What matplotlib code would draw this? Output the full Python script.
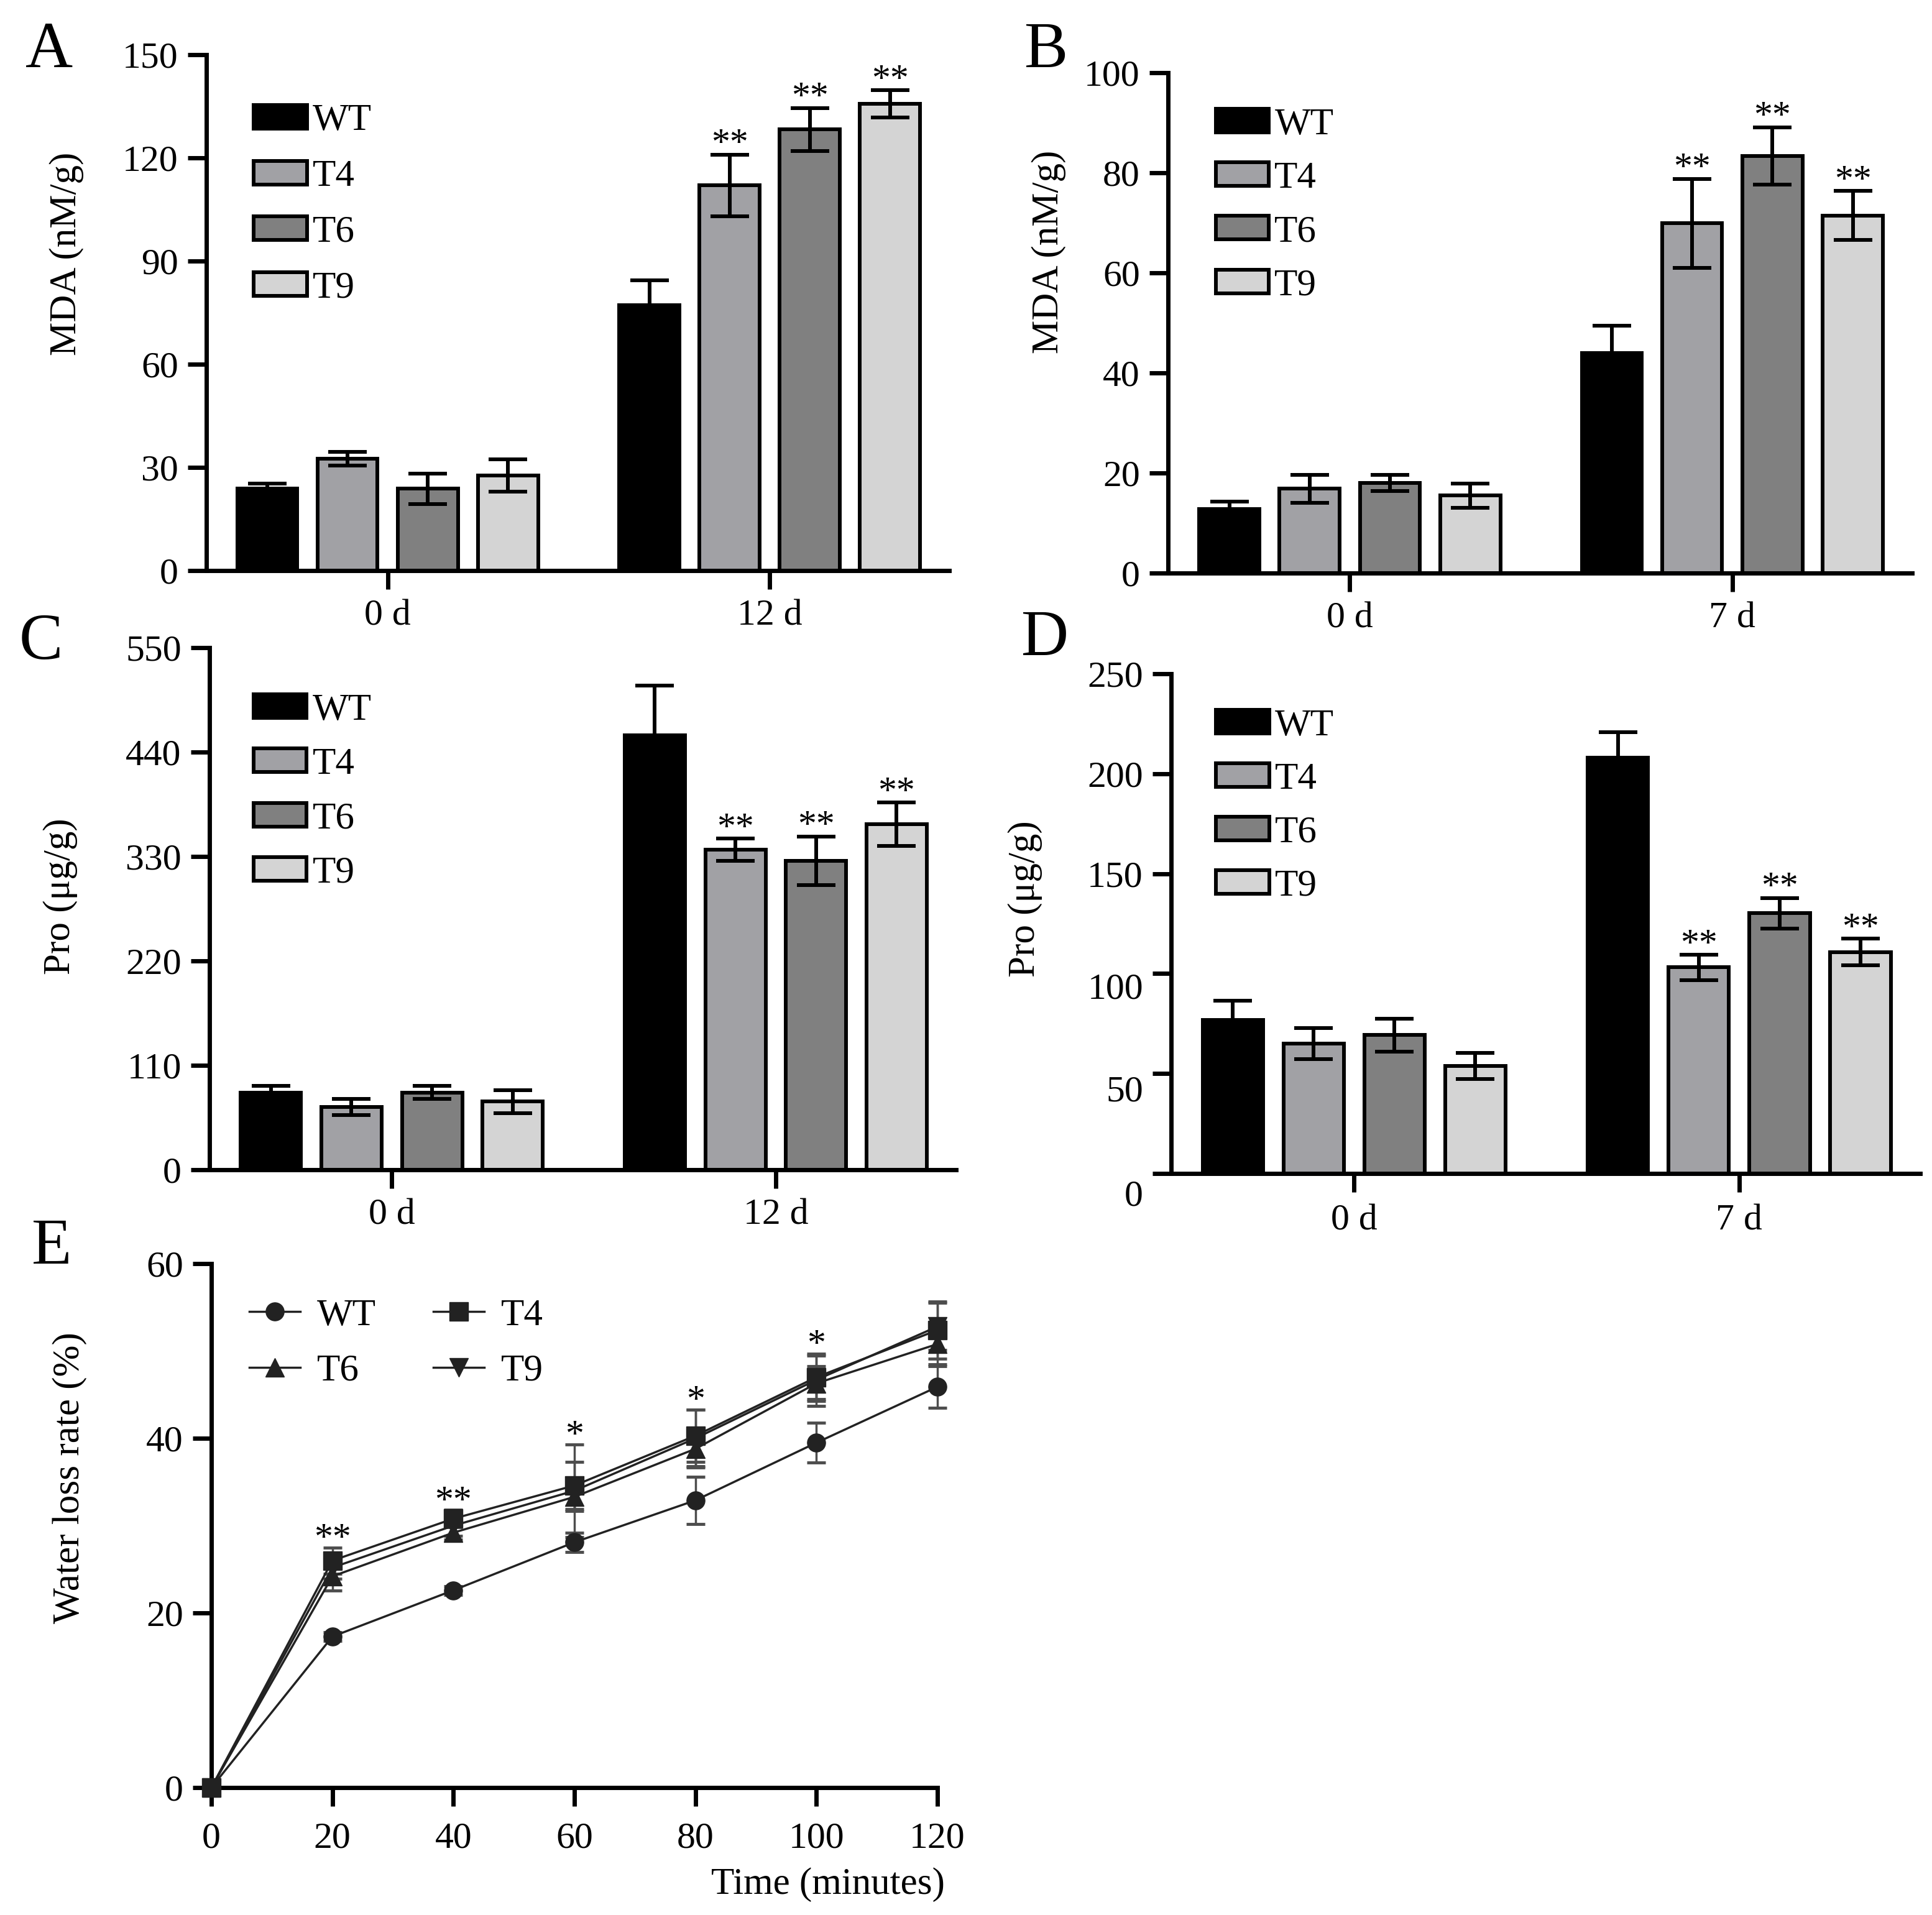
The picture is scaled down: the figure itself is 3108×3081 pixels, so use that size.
import numpy as np
import matplotlib
matplotlib.use("Agg")
import matplotlib.pyplot as plt
from matplotlib.patches import Patch
from matplotlib.lines import Line2D

plt.rcParams['font.family'] = ['Liberation Serif', 'DejaVu Serif']

# ---- data ----
genotypes = ['WT', 'T4', 'T6', 'T9']
bar_colors = ['#000000', '#a1a1a5', '#808080', '#d4d4d4']

# A: MDA, 0 d / 12 d
a_groups = ['0 d', '12 d']
a_mean = [[23.8, 32.5, 23.8, 27.6], [77.2, 112.0, 128.3, 135.7]]
a_err = [[1.5, 2.0, 4.4, 4.7], [7.2, 9.0, 6.2, 4.0]]
a_sig = [['', '', '', ''], ['', '**', '**', '**']]

# B: MDA, 0 d / 7 d
b_groups = ['0 d', '7 d']
b_mean = [[12.8, 16.9, 18.0, 15.5], [44.0, 69.9, 83.4, 71.5]]
b_err = [[1.5, 2.8, 1.6, 2.4], [5.4, 8.9, 5.7, 4.9]]
b_sig = [['', '', '', ''], ['', '**', '**', '**']]

# C: Pro, 0 d / 12 d
c_groups = ['0 d', '12 d']
c_mean = [[81.4, 65.9, 81.4, 71.8], [457.8, 337.2, 325.5, 364.0]]
c_err = [[7.1, 8.4, 7.1, 12.0], [52.0, 11.5, 25.6, 23.0]]
c_sig = [['', '', '', ''], ['', '**', '**', '**']]

# D: Pro, 0 d / 7 d
d_groups = ['0 d', '7 d']
d_mean = [[76.7, 65.0, 69.2, 53.8], [207.9, 103.1, 130.2, 110.8]]
d_err = [[9.8, 7.9, 8.3, 6.5], [12.9, 6.3, 7.6, 6.7]]
d_sig = [['', '', '', ''], ['', '**', '**', '**']]

# E: water loss rate
times = [0, 20, 40, 60, 80, 100, 120]
wt = [0, 17.3, 22.6, 28.1, 32.9, 39.5, 45.9]
wt_err = [0, 0.5, 0.5, 1.1, 2.7, 2.3, 2.4]
t4 = [0, 26.0, 30.8, 34.6, 40.3, 47.0, 52.4]
t4_err = [0, 1.5, 1.0, 2.7, 3.0, 2.5, 3.3]
t6 = [0, 24.2, 29.2, 33.3, 38.8, 46.3, 50.8]
t6_err = [0, 1.6, 0.8, 1.6, 2.0, 2.0, 2.3]
t9 = [0, 25.2, 30.0, 34.0, 40.0, 46.7, 52.8]
t9_err = [0, 1.3, 1.2, 5.3, 3.3, 3.0, 2.7]
e_sig = ['', '**', '**', '*', '*', '*', '']

FS = 43
LW = 5

fig = plt.figure(figsize=(31.08, 30.81), dpi=100)


def style_axes(ax):
    for s in ['top', 'right']:
        ax.spines[s].set_visible(False)
    for s in ['left', 'bottom']:
        ax.spines[s].set_linewidth(LW)
    ax.tick_params(axis='both', direction='out', length=21.6, width=LW,
                   labelsize=FS)
    ax.tick_params(axis='y', pad=11)


def bar_panel(rect, groups, means, errs, sigs, ylim, yticks, ylabel,
              ylab_xy, leg_xy, leg_space):
    ax = fig.add_axes(rect)
    x = np.arange(len(groups))
    offsets = (np.arange(4) - 1.5) * 0.21
    for j, g in enumerate(genotypes):
        vals = np.array([means[i][j] for i in range(len(groups))])
        ee = np.array([errs[i][j] for i in range(len(groups))])
        ax.bar(x + offsets[j], vals, 0.157, yerr=ee, color=bar_colors[j],
               edgecolor='black', linewidth=4.3, label=g, zorder=2,
               error_kw=dict(ecolor='black', elinewidth=4.3, capsize=22,
                             capthick=4.3, zorder=3))
        for i in range(len(groups)):
            if sigs[i][j]:
                ax.annotate(sigs[i][j], (x[i] + offsets[j], vals[i] + ee[i]),
                            xytext=(0, 1), textcoords='offset points',
                            ha='center', va='baseline', fontsize=FS)
    ax.set_xlim(-0.475, 1.47)
    ax.set_ylim(*ylim)
    ax.set_yticks(yticks)
    ax.set_xticks(x)
    ax.set_xticklabels(groups)
    style_axes(ax)
    ax.tick_params(axis='x', pad=12)
    ax.set_ylabel(ylabel, fontsize=44)
    ax.yaxis.set_label_coords(*ylab_xy)
    handles = [Patch(facecolor=c, edgecolor='black', linewidth=4.3)
               for c in bar_colors]
    ax.legend(handles, genotypes, loc='upper left', bbox_to_anchor=leg_xy,
              frameon=False, fontsize=44, borderpad=0, borderaxespad=0,
              handlelength=1.4, handleheight=0.58, handletextpad=0.15,
              labelspacing=leg_space)
    return ax


axA = bar_panel([0.1068, 0.7020, 0.3845, 0.2694], a_groups, a_mean, a_err,
                a_sig, (0, 150), [0, 30, 60, 90, 120, 150], 'MDA (nM/g)',
                (-0.165, 0.614), (0.064, 0.905), 0.56)
axB = bar_panel([0.6046, 0.7007, 0.3851, 0.2613], b_groups, b_mean, b_err,
                b_sig, (0, 100), [0, 20, 40, 60, 80, 100], 'MDA (nM/g)',
                (-0.137, 0.642), (0.064, 0.930), 0.50)
axC = bar_panel([0.1084, 0.3892, 0.3865, 0.2726], c_groups, c_mean, c_err,
                c_sig, (0, 550), [0, 110, 220, 330, 440, 550], 'Pro (μg/g)',
                (-0.176, 0.524), (0.059, 0.913), 0.52)
axD = bar_panel([0.6062, 0.3872, 0.3877, 0.2610], d_groups, d_mean, d_err,
                d_sig, (0, 250), [0, 50, 100, 150, 200, 250], 'Pro (μg/g)',
                (-0.172, 0.549), (0.060, 0.930), 0.50)

# panel D: the lower tick labels sit below their ticks in the original
d_labels = ['0', '50', '100', '150', '200', '250']
d_shift = [27, 21.6, 19, 0, 0, 0]
axD.set_yticklabels(['', '', '', '150', '200', '250'])
for val, lab, dy in zip([0, 50, 100, 150, 200, 250], d_labels, d_shift):
    if dy:
        axD.annotate(lab, (0, val), xycoords=('axes fraction', 'data'),
                     xytext=(-32.4, -dy), textcoords='offset points',
                     ha='right', va='center', fontsize=FS)
axD.tick_params(axis='x', pad=14)

# ---- panel E ----
axE = fig.add_axes([0.1094, 0.0665, 0.3758, 0.2736])
series = [(wt, wt_err, 'o'), (t4, t4_err, 's'), (t6, t6_err, '^'),
          (t9, t9_err, 'v')]
for vals, errs, mk in series:
    axE.errorbar(times, vals, yerr=errs, color='#222222', lw=2.5, marker=mk,
                 markersize=21, ecolor='#4d4d4d', elinewidth=2.5, capsize=10.5,
                 capthick=3.5, clip_on=False, zorder=3)
for i, s in enumerate(e_sig):
    if s:
        top = max(t4[i] + t4_err[i], t6[i] + t6_err[i], t9[i] + t9_err[i])
        axE.annotate(s, (times[i], top), xytext=(0, -1),
                     textcoords='offset points', ha='center', va='baseline',
                     fontsize=FS)
axE.set_xlim(0, 120)
axE.set_ylim(0, 60)
axE.set_xticks(times)
axE.set_yticks([0, 20, 40, 60])
style_axes(axE)
axE.tick_params(axis='x', pad=18)
axE.set_ylabel('Water loss rate (%)', fontsize=44)
axE.yaxis.set_label_coords(-0.171, 0.591)
axE.set_xlabel('Time (minutes)', fontsize=44, ha='right')
axE.xaxis.set_label_coords(1.01, -0.152)
e_handles = [Line2D([], [], color='#222222', lw=2.5, marker=mk, markersize=21)
             for _, _, mk in series]
e_names = ['WT', 'T4', 'T6', 'T9']
order = [0, 2, 1, 3]
axE.legend([e_handles[k] for k in order], [e_names[k] for k in order],
           ncol=2, loc='upper left', bbox_to_anchor=(0.052, 0.934),
           frameon=False, fontsize=44, borderpad=0, borderaxespad=0,
           handlelength=1.34, handletextpad=0.45, columnspacing=1.5,
           labelspacing=0.55)

# panel letters
for lab, xl, yb in [('A', 41, 108), ('B', 1648, 108), ('C', 31, 1060),
                    ('D', 1643, 1054), ('E', 51, 2033)]:
    fig.text(xl / 3108, 1 - yb / 3081, lab, fontsize=76, ha='left',
             va='baseline')

fig.savefig('out.png', dpi=100)
